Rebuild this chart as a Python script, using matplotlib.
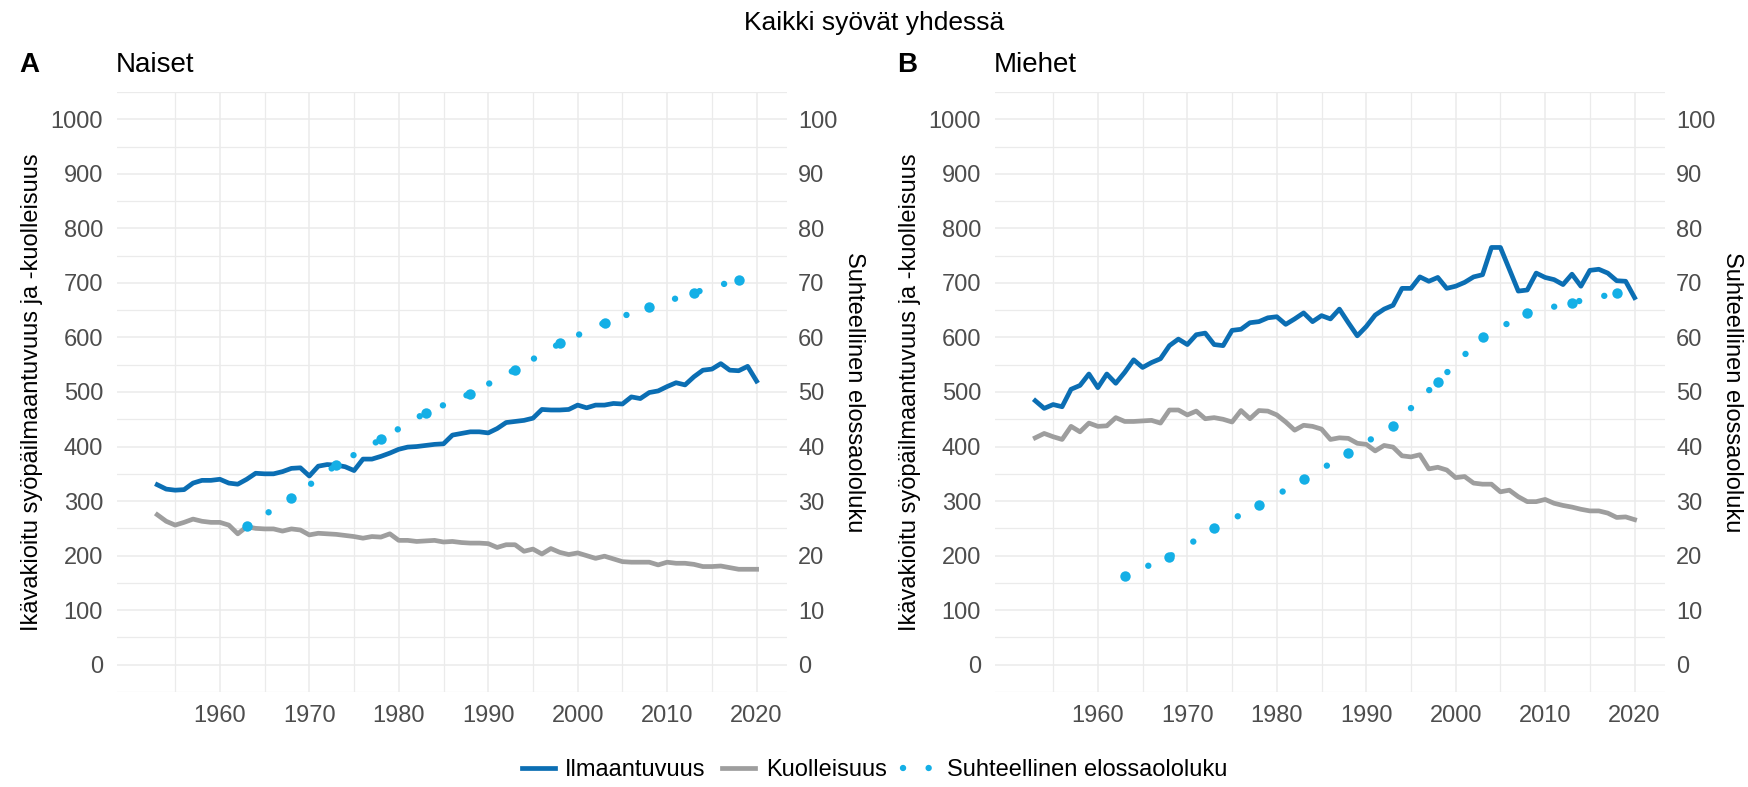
import matplotlib
matplotlib.use('Agg')
import matplotlib.pyplot as plt
from matplotlib.lines import Line2D
from matplotlib.ticker import MultipleLocator, FixedLocator
import numpy as np

plt.rcParams['font.family'] = ['Liberation Sans', 'DejaVu Sans']

# Data
years = np.arange(1953, 2021)
surv_years = [1963, 1968, 1973, 1978, 1983, 1988, 1993, 1998, 2003, 2008, 2013, 2018]

# Naiset (women)
inc_w = [330, 322, 320, 321, 333, 338, 338, 340, 333, 331,
         340, 351, 350, 350, 354, 360, 361, 346, 364, 367,
         366, 363, 356, 377, 377, 382, 388, 395, 399, 400,
         402, 404, 405, 421, 424, 427, 427, 425, 433, 444,
         446, 448, 452, 468, 467, 467, 468, 476, 471, 476,
         476, 479, 478, 491, 488, 499, 502, 510, 517, 513,
         528, 540, 542, 552, 540, 539, 547, 520]
mort_w = [275, 263, 256, 261, 267, 263, 261, 261, 256, 240,
          253, 250, 249, 249, 245, 249, 247, 238, 241, 240,
          239, 237, 235, 232, 235, 234, 240, 228, 228, 226,
          227, 228, 225, 226, 224, 223, 223, 222, 215, 220,
          220, 208, 212, 203, 213, 206, 202, 205, 200, 195,
          199, 194, 189, 188, 188, 188, 183, 188, 186, 186,
          184, 180, 180, 181, 178, 175, 175, 175]
surv_w = [25.5, 30.5, 36.6, 41.3, 46.2, 49.7, 54.1, 58.9, 62.7, 65.6, 68.2, 70.6]

# Miehet (men)
inc_m = [484, 470, 477, 473, 505, 512, 533, 508, 533, 516,
         536, 559, 545, 554, 561, 585, 597, 587, 605, 608,
         587, 585, 613, 615, 627, 629, 636, 638, 624, 634,
         645, 629, 640, 634, 652, 627, 603, 620, 641, 652,
         659, 690, 690, 711, 703, 710, 690, 694, 701, 711,
         715, 765, 765, 725, 685, 687, 718, 710, 706, 697,
         716, 694, 723, 725, 718, 704, 703, 673]
mort_m = [416, 424, 418, 413, 437, 427, 443, 437, 438, 453,
          446, 446, 447, 448, 443, 467, 467, 458, 465, 451,
          453, 450, 445, 466, 451, 466, 465, 458, 445, 430,
          439, 437, 432, 413, 416, 415, 406, 404, 392, 402,
          399, 383, 381, 385, 359, 362, 357, 343, 345, 333,
          331, 331, 317, 320, 308, 299, 299, 303, 296, 292,
          289, 285, 282, 282, 278, 270, 271, 266]
surv_m = [16.3, 19.8, 25.0, 29.2, 34.0, 38.8, 43.8, 51.9, 60.1, 64.5, 66.4, 68.1]

c_inc = '#0B6EB3'
c_mort = '#9E9E9E'
c_surv = '#14AFE6'
tick_col = '#4D4D4D'
grid_col = '#EBEBEB'

W, H = 1749, 787
fig = plt.figure(figsize=(W / 100, H / 100), dpi=100)

panels = [
    (117, 'A', 'Naiset', inc_w, mort_w, surv_w),
    (995, 'B', 'Miehet', inc_m, mort_m, surv_m),
]

ylab_left = 'Ikävakioitu syöpäilmaantuvuus ja -kuolleisuus'
ylab_right = 'Suhteellinen elossaololuku'
lw_line = 3.4
lw_dot = 4.6
dots = (0, (0.01, 4.0))

for left, letter, name, inc, mort, surv in panels:
    ax = fig.add_axes([left / W, (H - 692) / H, 670 / W, 600 / H])
    ax.plot(years, mort, color=c_mort, lw=lw_line, solid_joinstyle='round', zorder=3)
    ax.plot(years, inc, color=c_inc, lw=lw_line, solid_joinstyle='round', zorder=4)
    ax.set_xlim(1948.5, 2023.4)
    ax.set_ylim(-50, 1050)
    ax.xaxis.set_major_locator(FixedLocator(range(1960, 2021, 10)))
    ax.xaxis.set_minor_locator(FixedLocator(range(1955, 2020, 10)))
    ax.yaxis.set_major_locator(MultipleLocator(100))
    ax.yaxis.set_minor_locator(MultipleLocator(50))
    ax.grid(which='major', color=grid_col, lw=1.1)
    ax.grid(which='minor', color=grid_col, lw=0.9)
    ax.set_axisbelow(True)
    ax.tick_params(which='both', length=0, labelsize=17, labelcolor=tick_col)
    ax.tick_params(axis='y', pad=10)
    ax.tick_params(axis='x', pad=9)
    for s in ax.spines.values():
        s.set_visible(False)

    ax2 = ax.twinx()
    ax2.set_ylim(-5, 105)
    ax2.yaxis.set_major_locator(MultipleLocator(10))
    ax2.plot(surv_years, surv, color=c_surv, lw=lw_dot, ls=dots,
             dash_capstyle='round', marker='o', ms=7.5, mec='none', zorder=5)
    ax2.tick_params(length=0, labelsize=17, labelcolor=tick_col, pad=8)
    for s in ax2.spines.values():
        s.set_visible(False)

    fig.text((left - 98) / W, 1 - 65 / H, letter, fontsize=20, fontweight='bold',
             ha='left', va='center')
    fig.text((left - 1) / W, 1 - 65 / H, name, fontsize=20, ha='left', va='center')
    fig.text((left - 85) / W, 1 - 392 / H, ylab_left, fontsize=17, rotation=90,
             ha='center', va='center')
    fig.text((left + 737) / W, 1 - 392 / H, ylab_right, fontsize=17, rotation=270,
             ha='center', va='center')

fig.text(0.5, 1 - 23 / H, 'Kaikki syövät yhdessä', fontsize=19, ha='center', va='center')

handles = [
    Line2D([], [], color=c_inc, lw=lw_line),
    Line2D([], [], color=c_mort, lw=lw_line),
    Line2D([], [], color=c_surv, lw=lw_dot, ls=dots, dash_capstyle='round'),
]
fig.legend(handles, ['Ilmaantuvuus', 'Kuolleisuus', 'Suhteellinen elossaololuku'],
           loc='center', bbox_to_anchor=(0.5, 1 - 770 / H), ncol=3, frameon=False,
           fontsize=17, handlelength=1.4, handletextpad=0.45, columnspacing=0.7)

fig.savefig('out.png', dpi=100)
